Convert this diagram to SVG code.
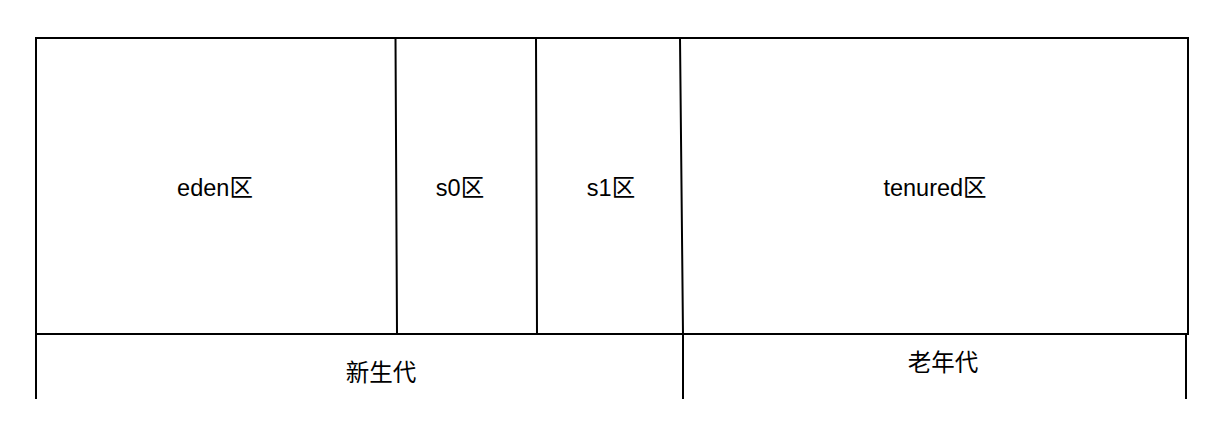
<svg xmlns="http://www.w3.org/2000/svg" width="1216" height="430" viewBox="0 0 1216 430">
<style>
.l{stroke:#000;stroke-width:2;fill:none;stroke-linecap:square}
text{font-family:"Liberation Sans","Noto Sans CJK SC",sans-serif;font-size:23.5px;fill:#000;text-anchor:middle;dominant-baseline:central}
</style>
<rect width="1216" height="430" fill="#fff"/>
<g id="eden"><text x="215" y="188">eden区</text></g>
<g id="s0"><text x="460" y="188">s0区</text></g>
<g id="s1"><text x="611" y="188">s1区</text></g>
<g id="tenured"><text x="935" y="188">tenured区</text></g>
<g id="young"><text x="381" y="373">新生代</text></g>
<g id="old"><text x="943" y="363">老年代</text></g>
<g id="connectors">
<path class="l" d="M36 38 H1188 V334 H36 Z"/>
<path class="l" d="M395.5 38 L397 334"/>
<path class="l" d="M536 38 L537 334"/>
<path class="l" d="M680 38 L683 334"/>
<path class="l" d="M36 334 V398"/>
<path class="l" d="M683 334 V398"/>
<path class="l" d="M1186 334 V398"/>
</g>
</svg>
